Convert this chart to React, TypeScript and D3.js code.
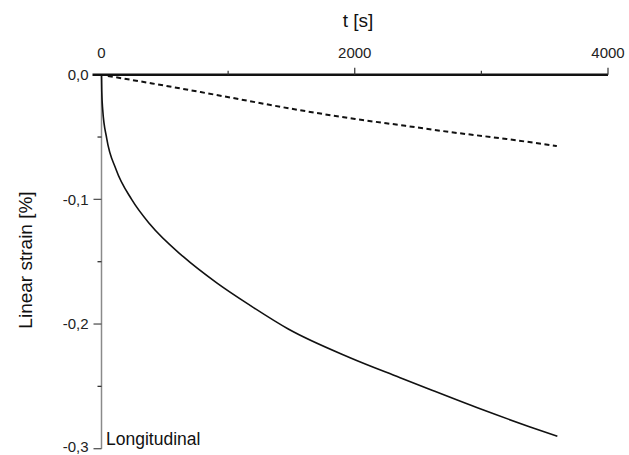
import React, { useRef, useEffect } from "react";
import * as d3 from "d3";

// Longitudinal strain vs time
const solidT = [0, 2, 9.5, 41, 115, 238, 383, 646, 910, 1173, 1475, 1963, 2358, 2595, 2990, 3385, 3600];
const solidS = [0, -0.013, -0.028, -0.051, -0.076, -0.1, -0.12, -0.146, -0.167, -0.185, -0.204, -0.227, -0.243, -0.2525, -0.268, -0.2825, -0.29];

const dashT = [50, 400, 910, 1568, 2002, 2400, 2753, 3200, 3596];
const dashS = [-0.001, -0.007, -0.0163, -0.0285, -0.0355, -0.041, -0.046, -0.0516, -0.0572];

const xMajor = [0, 2000, 4000];
const xMinor = [1000, 3000];
const yMajor = [0, -0.1, -0.2, -0.3];
const yMinor = [-0.05, -0.15, -0.25];

const W = 629;
const H = 455;
const FONT = "Arial, 'Liberation Sans', sans-serif";

const App = () => {
  const svgRef = useRef<SVGSVGElement>(null);

  useEffect(() => {
    const svg = d3.select(svgRef.current);
    svg.selectAll("*").remove();

    const x = d3.scaleLinear().domain([0, 4000]).range([101.5, 608]);
    const y = d3.scaleLinear().domain([0, -0.3]).range([74.7, 448.7]);

    svg.append("rect").attr("width", W).attr("height", H).attr("fill", "#fff");

    // Y axis (left, gray)
    const yAxis = svg.append("g").attr("transform", `translate(${x(0)},0)`);
    yAxis
      .append("line")
      .attr("y1", y(0))
      .attr("y2", y(-0.3))
      .attr("stroke", "#8a8a8a")
      .attr("stroke-width", 1.5);
    yAxis
      .selectAll("line.maj")
      .data(yMajor)
      .join("line")
      .attr("class", "maj")
      .attr("x1", -8)
      .attr("x2", 0)
      .attr("y1", (d) => y(d))
      .attr("y2", (d) => y(d))
      .attr("stroke", "#555")
      .attr("stroke-width", 1.3);
    yAxis
      .selectAll("line.min")
      .data(yMinor)
      .join("line")
      .attr("class", "min")
      .attr("x1", -4)
      .attr("x2", 0)
      .attr("y1", (d) => y(d))
      .attr("y2", (d) => y(d))
      .attr("stroke", "#333")
      .attr("stroke-width", 1.3);
    yAxis
      .selectAll("text")
      .data(yMajor)
      .join("text")
      .attr("x", -13)
      .attr("y", (d) => Math.min(y(d), H - 8.5))
      .attr("dy", "0.36em")
      .attr("text-anchor", "end")
      .attr("font-family", FONT)
      .attr("font-size", 15)
      .attr("fill", "#222")
      .text((d) => d3.format(".1f")(d).replace(".", ",").replace("−", "-"));

    // X axis (top, black)
    const xAxis = svg.append("g").attr("transform", `translate(0,${y(0)})`);
    xAxis
      .append("line")
      .attr("x1", x(0) - 9)
      .attr("x2", x(4000))
      .attr("stroke", "#111")
      .attr("stroke-width", 2.4);
    xAxis
      .selectAll("line.maj")
      .data(xMajor.slice(1))
      .join("line")
      .attr("class", "maj")
      .attr("x1", (d) => x(d))
      .attr("x2", (d) => x(d))
      .attr("y1", -7)
      .attr("y2", 0)
      .attr("stroke", "#333")
      .attr("stroke-width", 1.2);
    xAxis
      .selectAll("line.min")
      .data(xMinor)
      .join("line")
      .attr("class", "min")
      .attr("x1", (d) => x(d))
      .attr("x2", (d) => x(d))
      .attr("y1", -4)
      .attr("y2", 0)
      .attr("stroke", "#333")
      .attr("stroke-width", 1.2);
    xAxis
      .selectAll("text")
      .data(xMajor)
      .join("text")
      .attr("x", (d) => x(d))
      .attr("y", -17)
      .attr("text-anchor", "middle")
      .attr("font-family", FONT)
      .attr("font-size", 15)
      .attr("fill", "#222")
      .text((d) => String(d));

    // Titles
    svg
      .append("text")
      .attr("x", 358)
      .attr("y", 27)
      .attr("text-anchor", "middle")
      .attr("font-family", FONT)
      .attr("font-size", 19)
      .attr("fill", "#111")
      .text("t [s]");

    svg
      .append("text")
      .attr("transform", `translate(32,260) rotate(-90)`)
      .attr("text-anchor", "middle")
      .attr("font-family", FONT)
      .attr("font-size", 19)
      .attr("fill", "#111")
      .text("Linear strain [%]");

    svg
      .append("text")
      .attr("x", 106)
      .attr("y", 445)
      .attr("font-family", FONT)
      .attr("font-size", 17.5)
      .attr("fill", "#111")
      .text("Longitudinal");

    // Curves
    const line = d3
      .line<number>()
      .x((d) => x(d))
      .curve(d3.curveMonotoneX);

    svg
      .append("path")
      .attr(
        "d",
        line.y((_, i) => y(solidS[i]))(solidT)
      )
      .attr("fill", "none")
      .attr("stroke", "#111")
      .attr("stroke-width", 1.6);

    svg
      .append("path")
      .attr(
        "d",
        line.y((_, i) => y(dashS[i]))(dashT)
      )
      .attr("fill", "none")
      .attr("stroke", "#111")
      .attr("stroke-width", 2)
      .attr("stroke-dasharray", "5,3.5");
  }, []);

  return (
    <div style={{ position: "fixed", left: 0, top: 0 }}>
      <svg ref={svgRef} width={W} height={H} style={{ display: "block" }}></svg>
    </div>
  );
};

export default App;
